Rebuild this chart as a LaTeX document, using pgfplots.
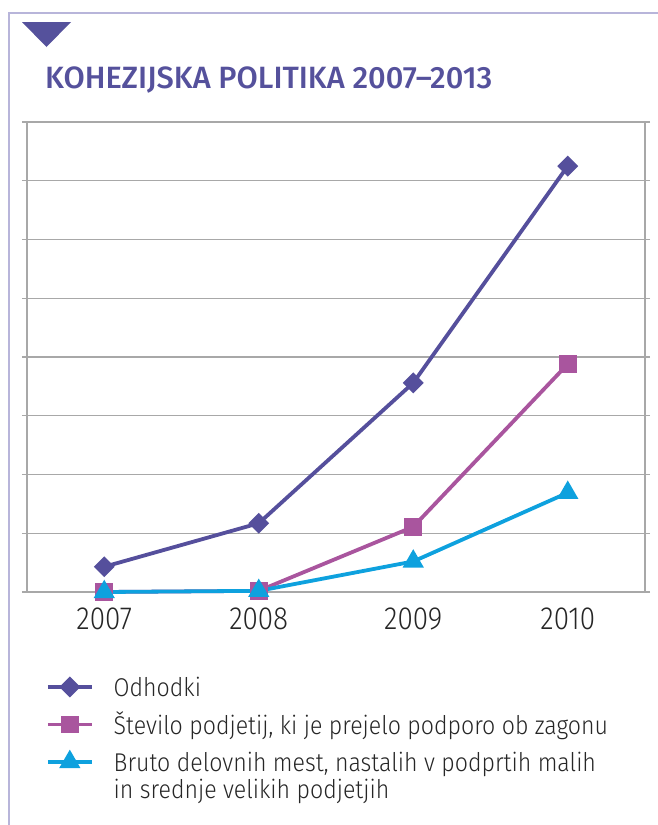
\documentclass[border=0pt]{standalone}
\usepackage{fontspec}
\setmainfont{Fira Sans}[UprightFont={* Light}]
\newfontfamily\titlefam{Fira Sans}[UprightFont={* Medium}]
\newfontfamily\tickfam{Fira Sans}[UprightFont={* Light}, FakeStretch=0.87]
\newfontfamily\legfam{Fira Sans}[UprightFont={* Light}, FakeStretch=0.9]
\usepackage{pgfplots}
\pgfplotsset{compat=1.18}
\definecolor{framecol}{HTML}{B8B5DA}
\definecolor{titlecol}{HTML}{55519C}
\definecolor{odh}{HTML}{554F9C}
\definecolor{stev}{HTML}{A9559E}
\definecolor{bruto}{HTML}{0EA1DE}
\definecolor{gridc}{HTML}{A8A8A8}
\definecolor{txt}{HTML}{262626}
\newcommand\Sa{\rule[-9pt]{0pt}{37.5pt}}
\begin{document}
\begin{tikzpicture}
\useasboundingbox (0pt,0pt) rectangle (657pt,-825pt);
\draw[framecol, line width=2.7pt] (9pt,-830pt) -- (9pt,-13pt) -- (660pt,-13pt);
\fill[titlecol] (22pt,-22pt) -- (71pt,-22pt) -- (46.5pt,-47pt) -- cycle;
\node[anchor=base west, inner sep=0pt, text=titlecol] at (45pt,-88pt)
  {\titlefam\fontsize{30.8pt}{34pt}\selectfont KOHEZIJSKA POLITIKA 2007–2013};
\begin{axis}[
  at={(27pt,-592pt)}, anchor=south west,
  width=618pt, height=470pt, scale only axis,
  xmin=-0.5, xmax=3.5, ymin=0, ymax=8,
  xtick={0,1,2,3}, xticklabels={2007,2008,2009,2010},
  ytick={0,1,2,3,4,5,6,7,8}, yticklabels={},
  ymajorgrids, grid style={gridc, line width=1.1pt},
  axis line style={gridc, line width=1.1pt},
  tick align=outside, major tick length=5pt,
  ytick style={gridc, line width=1.1pt},
  xtick style={draw=none},
  xticklabel style={font=\tickfam\fontsize{32pt}{36pt}\selectfont, text=txt, inner sep=0pt, anchor=north, yshift=-11pt},
  clip=false,
  legend image code/.code={\draw[mark repeat=2,mark phase=2] plot coordinates {(0pt,0pt) (22pt,0pt) (44pt,0pt)};},
  legend cell align=left,
  legend style={at={(0.0303,-0.1617)}, anchor=north west, draw=none, fill=none,
    inner sep=0pt, row sep=0pt, column sep=20pt,
    nodes={inner sep=0pt, text depth=, anchor=west, text=txt, font=\legfam\fontsize{25.7pt}{30pt}\selectfont}},
]
\addplot[odh, line width=3.8pt, mark=square*, mark size=5.5pt, mark options={rotate=45, solid}]
  coordinates {(0,0.43) (1,1.17) (2,3.56) (3,7.25)};
\addlegendentry{\Sa Odhodki}
\addplot[stev, line width=3.8pt, mark=square*, mark size=7pt, mark options={solid}]
  coordinates {(0,0) (1,0.02) (2,1.11) (3,3.88)};
\addlegendentry{\Sa Število podjetij, ki je prejelo podporo ob zagonu}
\addplot[bruto, line width=3.8pt, mark=triangle*, mark size=8.5pt, mark options={solid}]
  coordinates {(0,0) (1,0.02) (2,0.52) (3,1.69)};
\addlegendentry{\Sa Bruto delovnih mest, nastalih v podprtih malih}
\addlegendimage{empty legend}
\addlegendentry{\rule{0pt}{18pt}\smash{in srednje velikih podjetjih}}
\end{axis}
\end{tikzpicture}
\end{document}
